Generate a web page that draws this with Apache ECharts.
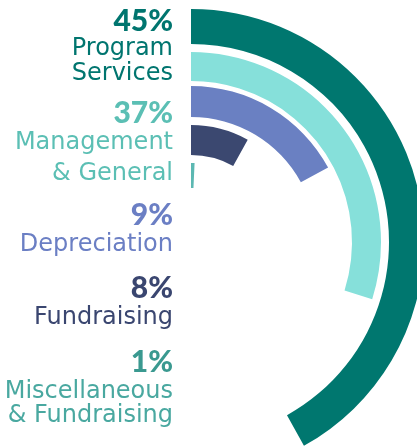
<!DOCTYPE html>
<html>
<head>
<meta charset="utf-8">
<script src="https://cdn.jsdelivr.net/npm/echarts@6/dist/echarts.min.js"></script>
<style>
  html, body { margin: 0; padding: 0; background: #fff; }
  #container { width: 417px; height: 447px; }
</style>
</head>
<body>
<div id="container"></div>
<script>
// values
var percentLabels = ['45%', '37%', '9%', '8%', '1%'];
var categoryLines = [
    ['Program', 'Services'],
    ['Management', '& General'],
    ['Depreciation'],
    ['Fundraising'],
    ['Miscellaneous', '& Fundraising']
];
// sweep of each arc, in degrees of a full turn
var arcDegrees = [151, 107.5, 61.5, 29, 2.6];

var ringColors = ['#00776f', '#86e0da', '#6a80c2', '#3b4870', '#5cb8b2'];
var labelColors = ['#00756f', '#5bbfb4', '#6b7fc4', '#3a4670', '#3a9990'];
var nameColors = ['#00756f', '#5bbfb4', '#6b7fc4', '#3a4670', '#49a8a0'];
var ringRadii = [[198, 233], [161, 190], [125, 156], [87, 117], [54, 79]];
var pctBaseline = [32, 124, 226, 299, 373];
var nameBaselines = [[57, 82], [151, 182], [253], [326], [400, 424]];

var dom = document.getElementById('container');
var myChart = echarts.init(dom);

var series = arcDegrees.map(function (deg, i) {
    return {
        type: 'pie',
        center: [191, 242],
        radius: ringRadii[i],
        startAngle: 90,
        clockwise: true,
        silent: true,
        animation: false,
        label: { show: false },
        labelLine: { show: false },
        emphasis: { disabled: true },
        data: [
            { value: deg, itemStyle: { color: ringColors[i] } },
            { value: 360 - deg, itemStyle: { color: 'rgba(0,0,0,0)' } }
        ]
    };
});

var texts = [];
percentLabels.forEach(function (p, i) {
    texts.push({
        type: 'text',
        x: 173,
        y: pctBaseline[i] - 11,
        style: {
            text: p,
            fill: labelColors[i],
            font: '900 30px Lato',
            align: 'right',
            verticalAlign: 'middle'
        }
    });
    categoryLines[i].forEach(function (line, j) {
        texts.push({
            type: 'text',
            x: 173,
            y: nameBaselines[i][j] - 8,
            style: {
                text: line,
                fill: nameColors[i],
                font: '24px "DejaVu Sans"',
                align: 'right',
                verticalAlign: 'middle'
            }
        });
    });
});

option = {
    animation: false,
    series: series,
    graphic: texts
};

if (option && typeof option === 'object') {
    myChart.setOption(option, true);
}
</script>
</body>
</html>
